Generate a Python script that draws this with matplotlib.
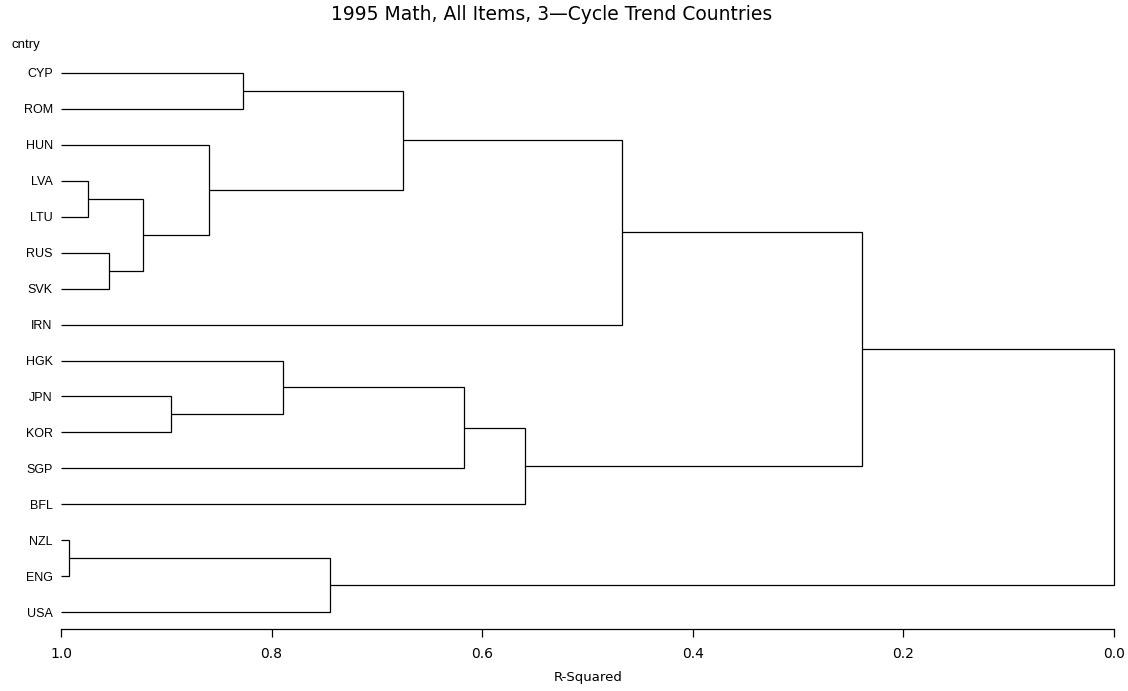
import numpy as np
import matplotlib
matplotlib.use('Agg')
import matplotlib.pyplot as plt

plt.rcParams['font.family'] = ['Liberation Sans', 'DejaVu Sans']

# Leaves in plotting order (top to bottom)
leaf_labels = ['CYP', 'ROM', 'HUN', 'LVA', 'LTU', 'RUS', 'SVK', 'IRN',
               'HGK', 'JPN', 'KOR', 'SGP', 'BFL', 'NZL', 'ENG', 'USA']

# Cluster joins: node ids 0-15 are leaves, each join creates node 16, 17, ...
merge_left = [0, 3, 5, 17, 2, 16, 21, 9, 8, 24, 25, 22, 13, 28, 27]
merge_right = [1, 4, 6, 18, 19, 20, 7, 10, 23, 11, 12, 26, 14, 15, 29]
merge_rsq = [0.827, 0.974, 0.954, 0.922, 0.859, 0.675, 0.467,
             0.896, 0.789, 0.617, 0.559, 0.239, 0.992, 0.745, 0.0]

x_ticks = [1.0, 0.8, 0.6, 0.4, 0.2, 0.0]

fig = plt.figure(figsize=(11.28, 6.91), dpi=100)
ax = fig.add_axes([61 / 1128, 1 - 629 / 691, (1114 - 61) / 1128, (629 - 55) / 691])

# position of every node: (R-squared, row)
node_x = [1.0] * len(leaf_labels)
node_y = list(range(len(leaf_labels)))

for left, right, rsq in zip(merge_left, merge_right, merge_rsq):
    xl, yl = node_x[left], node_y[left]
    xr, yr = node_x[right], node_y[right]
    ax.plot([xl, rsq, rsq, xr], [yl, yl, yr, yr], color='black', lw=0.9,
            solid_capstyle='butt', solid_joinstyle='miter', clip_on=False)
    node_x.append(rsq)
    node_y.append((yl + yr) / 2)

ax.set_xlim(1.0, 0.0)
ax.set_ylim(15.47, -0.5)

for side in ['top', 'right', 'left']:
    ax.spines[side].set_visible(False)
ax.spines['bottom'].set_linewidth(0.9)

ax.set_xticks(x_ticks)
ax.set_xticklabels([f'{t:.1f}' for t in x_ticks], fontsize=10, family='DejaVu Sans')
ax.tick_params(axis='x', direction='out', length=6, width=0.9, pad=7)

ax.set_yticks(range(len(leaf_labels)))
ax.set_yticklabels(leaf_labels, fontsize=9)
ax.tick_params(axis='y', length=0, pad=6)

fig.text(588 / 1128, 1 - 678 / 691, 'R-Squared', fontsize=9.5, family='DejaVu Sans',
         ha='center', va='center')
fig.text(11 / 1128, 1 - 45 / 691, 'cntry', fontsize=9.5, ha='left', va='center')
fig.text(552 / 1128, 1 - 14 / 691, '1995 Math, All Items, 3\u2014Cycle Trend Countries',
         fontsize=13.5, family='DejaVu Sans', ha='center', va='center')

fig.savefig('out.png', dpi=100)
